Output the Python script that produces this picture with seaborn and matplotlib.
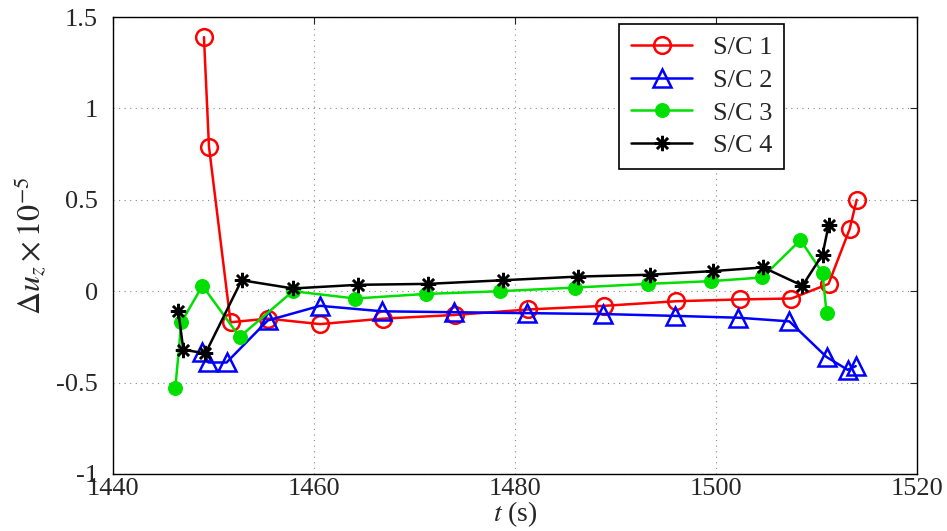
import numpy as np
import pandas as pd
import matplotlib
matplotlib.use("Agg")
import matplotlib.pyplot as plt
import seaborn as sns

t1 = [1449.05, 1449.55, 1451.7, 1455.4, 1460.6, 1466.9, 1474.0, 1481.3, 1488.9, 1496.0, 1502.4, 1507.5, 1511.2, 1513.3, 1514.0]
u1 = [1.39, 0.79, -0.17, -0.15, -0.18, -0.15, -0.13, -0.10, -0.08, -0.055, -0.045, -0.04, 0.04, 0.34, 0.50]

t2 = [1448.9, 1449.5, 1451.3, 1455.4, 1460.6, 1466.8, 1473.9, 1481.2, 1488.8, 1495.9, 1502.2, 1507.3, 1511.0, 1513.1, 1513.9]
u2 = [-0.33, -0.39, -0.39, -0.16, -0.08, -0.11, -0.115, -0.12, -0.125, -0.135, -0.145, -0.165, -0.36, -0.43, -0.41]

t3 = [1446.2, 1446.8, 1448.9, 1452.6, 1457.9, 1464.1, 1471.1, 1478.5, 1486.0, 1493.2, 1499.5, 1504.6, 1508.4, 1510.6, 1511.0]
u3 = [-0.53, -0.17, 0.03, -0.25, 0.0, -0.04, -0.015, 0.0, 0.02, 0.04, 0.055, 0.075, 0.28, 0.10, -0.12]

t4 = [1446.5, 1447.0, 1449.2, 1452.8, 1457.9, 1464.4, 1471.3, 1478.8, 1486.3, 1493.4, 1499.7, 1504.7, 1508.6, 1510.6, 1511.2]
u4 = [-0.11, -0.32, -0.34, 0.06, 0.015, 0.035, 0.04, 0.06, 0.08, 0.09, 0.11, 0.13, 0.03, 0.20, 0.36]

labels = ["S/C 1", "S/C 2", "S/C 3", "S/C 4"]
x_ticks = [1440, 1460, 1480, 1500, 1520]
y_ticks = [-1, -0.5, 0, 0.5, 1, 1.5]
y_tick_labels = ["-1", "-0.5", "0", "0.5", "1", "1.5"]

sns.set_style("white")
plt.rcParams["font.family"] = ["Liberation Serif", "DejaVu Serif"]
plt.rcParams["mathtext.fontset"] = "stix"

fig = plt.figure(figsize=(9.47, 5.31), dpi=100)
ax = fig.add_axes([113/947, 1-474/531, (917-113)/947, (474-17)/531])

styles = [
    dict(color="#ff0000", marker="o", markersize=12, markerfacecolor="none", markeredgecolor="#ff0000", markeredgewidth=1.8),
    dict(color="#0000ff", marker="^", markersize=13, markerfacecolor="none", markeredgecolor="#0000ff", markeredgewidth=1.8),
    dict(color="#00e000", marker="o", markersize=10, markerfacecolor="#00e000", markeredgecolor="#00e000"),
    dict(color="#000000", marker=(8, 2, 0), markersize=11, markeredgecolor="#000000", markeredgewidth=1.8),
]
series = [(t1, u1), (t2, u2), (t3, u3), (t4, u4)]
for (t, u), lab, st in zip(series, labels, styles):
    df = pd.DataFrame({"t": t, "u": u})
    sns.lineplot(data=df, x="t", y="u", ax=ax, sort=False, label=lab, linewidth=1.8, **st)

ax.set_xlim(1440, 1520)
ax.set_ylim(-1, 1.5)
ax.set_xticks(x_ticks)
ax.set_xticklabels([str(v) for v in x_ticks])
ax.set_yticks(y_ticks)
ax.set_yticklabels(y_tick_labels)
ax.tick_params(direction="in", labelsize=19, length=5, top=True, right=True)
ax.tick_params(axis="y", pad=11)
ax.tick_params(axis="x", pad=3)
ax.grid(True, linestyle=(0, (1, 4)), color="#888888", linewidth=0.8)
for s in ax.spines.values():
    s.set_visible(True)
    s.set_color("black")
    s.set_linewidth(1.0)

ax.set_xlabel(r"$t$ (s)", fontsize=20, labelpad=-1)
ax.set_ylabel(r"$\Delta u_z \times 10^{-5}$", fontsize=23, labelpad=6)

leg = ax.legend(loc="upper right", bbox_to_anchor=(0.835, 0.985), borderaxespad=0, fontsize=19,
                frameon=True, fancybox=False, edgecolor="black", framealpha=1, handlelength=2.3,
                borderpad=0.45, labelspacing=0.35, handletextpad=0.8)
leg.get_frame().set_linewidth(1.2)

fig.savefig("out.png", dpi=100)
